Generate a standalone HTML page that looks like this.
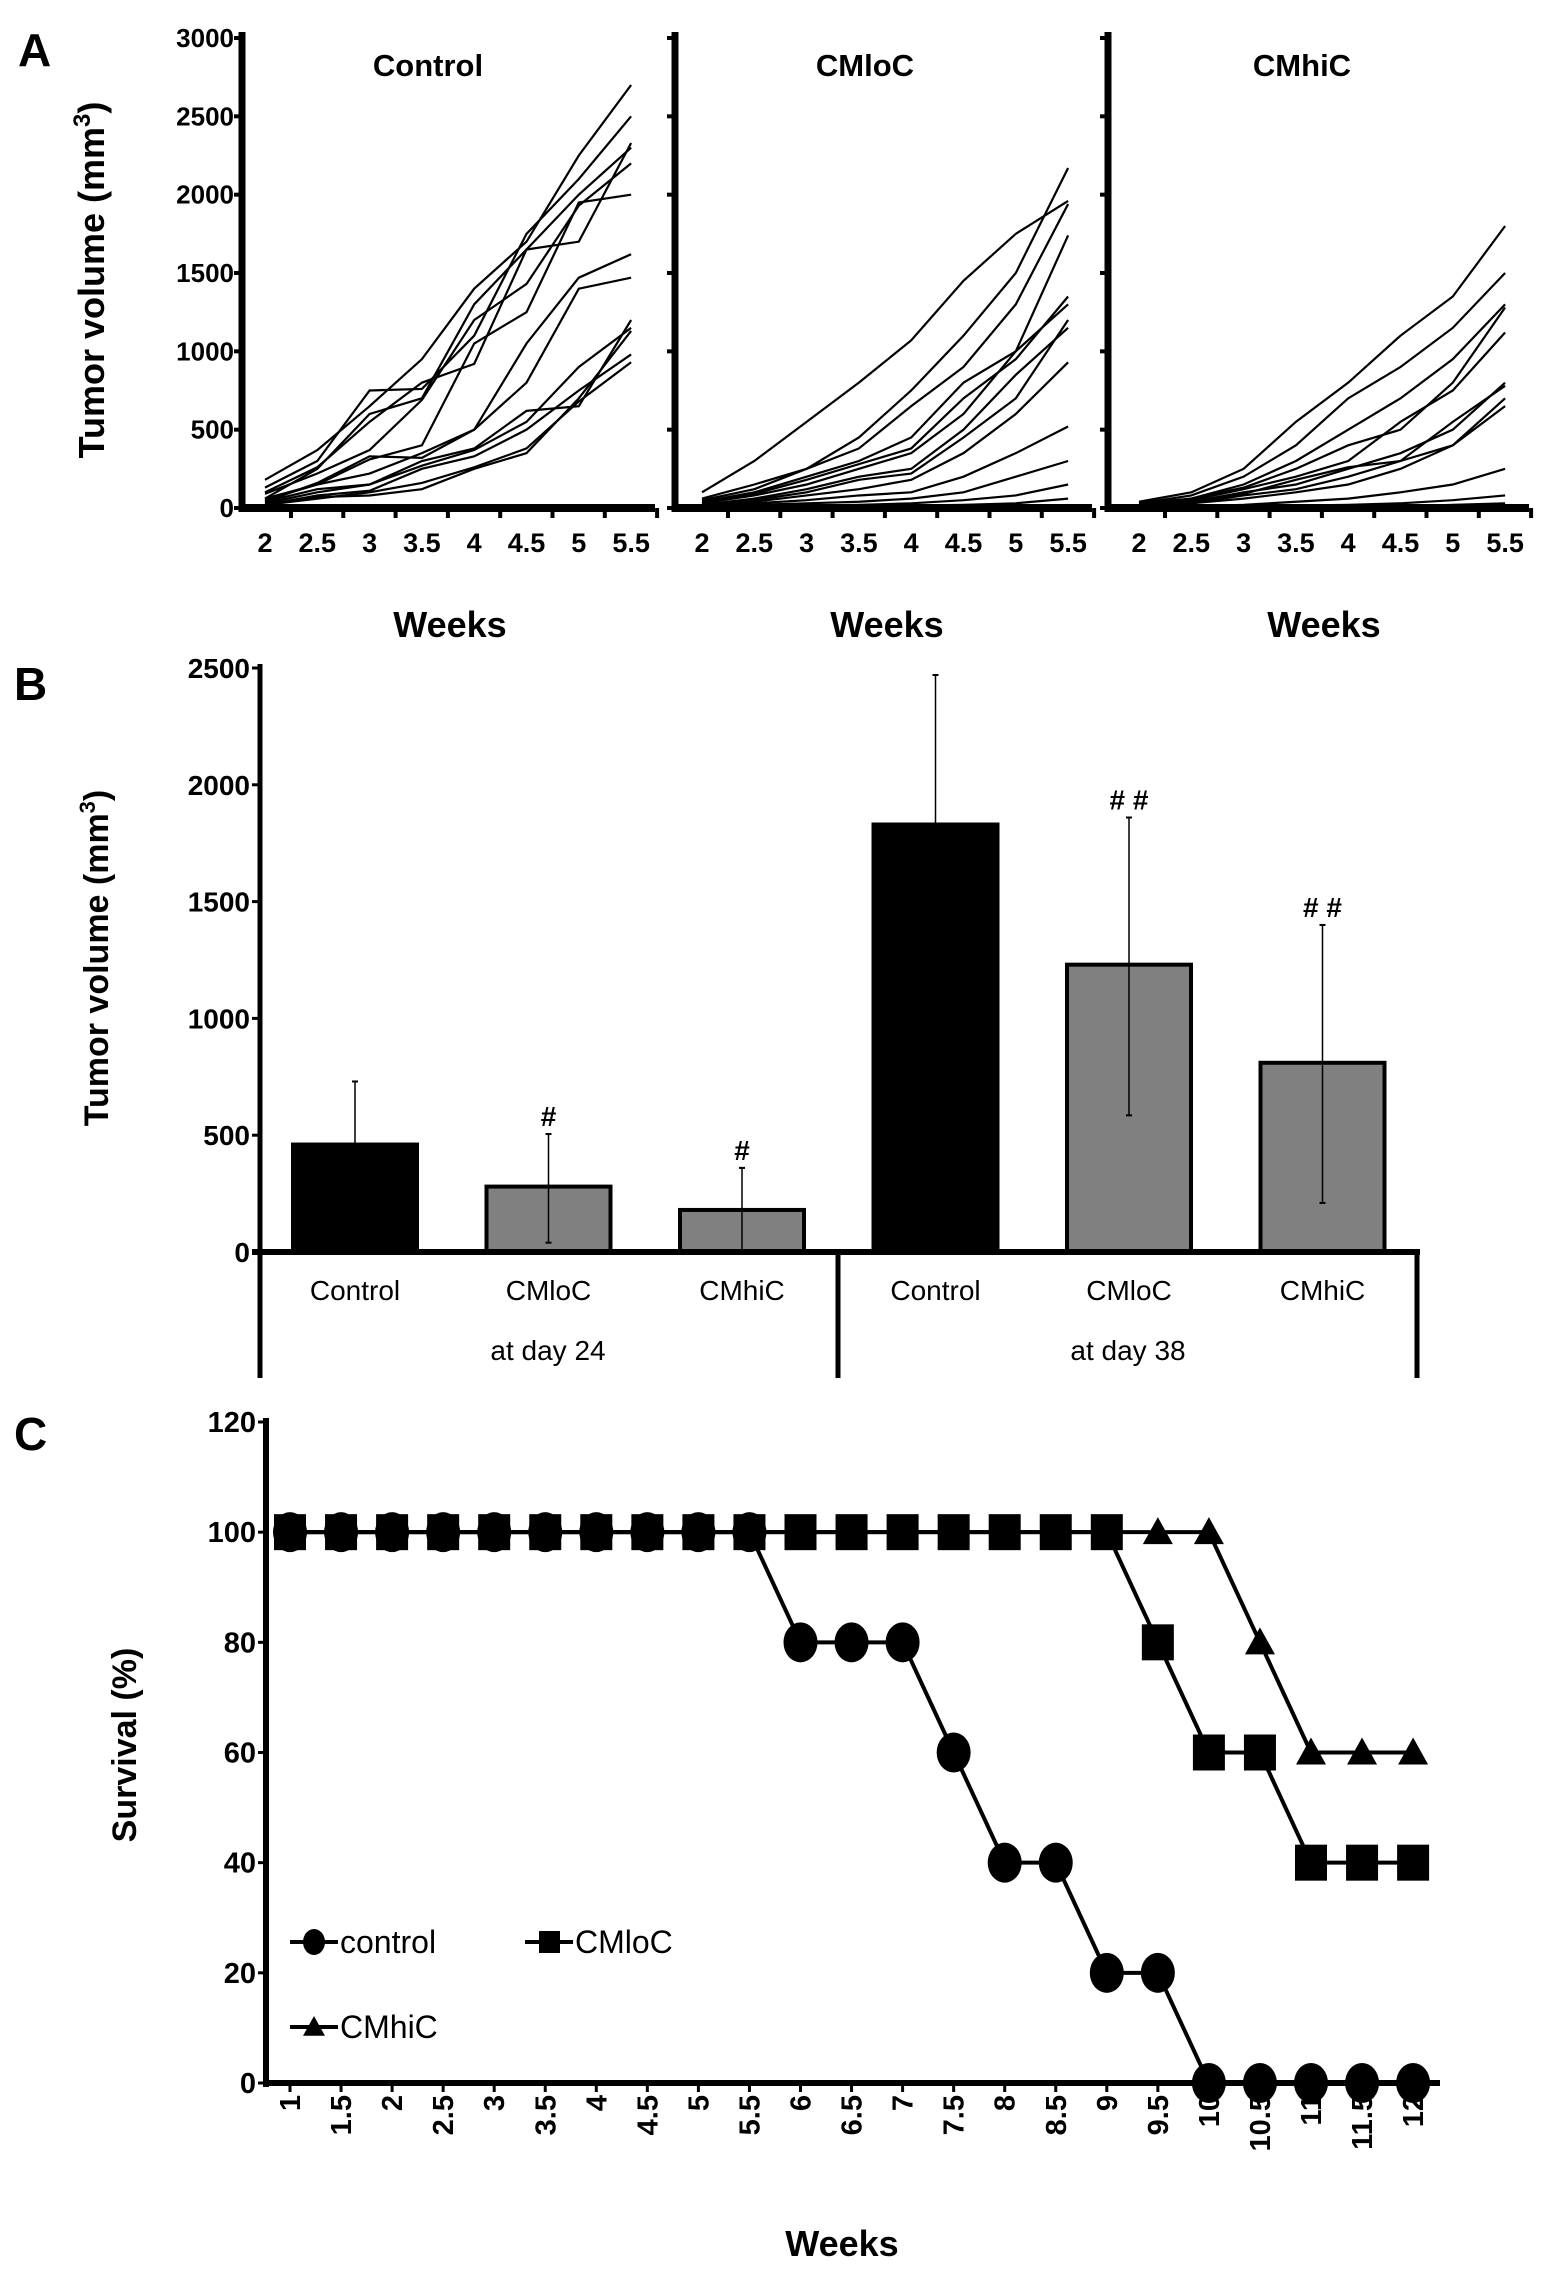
<!DOCTYPE html>
<html><head><meta charset="utf-8"><style>
html,body{margin:0;padding:0;background:#fff;}
svg{display:block;font-family:"Liberation Sans",Arial,sans-serif;}
</style></head><body>
<svg id="fig" width="1559" height="2270" viewBox="0 0 1559 2270" xmlns="http://www.w3.org/2000/svg">
<text x="18" y="66" font-size="46" font-weight="bold">A</text>
<text x="14" y="700" font-size="46" font-weight="bold">B</text>
<text x="14" y="1450" font-size="46" font-weight="bold">C</text>
<g id="gA"></g>
<g id="gB"></g>
<g id="gC"></g>
</svg>
<script>
// ---------- Panel A data ----------
const aWeeks = [2,2.5,3,3.5,4,4.5,5,5.5];
const aYTicks = [0,500,1000,1500,2000,2500,3000];
const aTitles = ["Control","CMloC","CMhiC"];
const aControl = [
[180,370,650,950,1400,1700,2250,2700],
[130,300,750,760,1100,1750,2100,2500],
[100,260,550,800,920,1650,1700,2330],
[60,250,600,700,1300,1650,2000,2300],
[90,220,370,690,1200,1430,1930,2200],
[50,150,310,400,1050,1250,1950,2000],
[40,160,330,320,500,1050,1470,1620],
[60,150,220,350,500,800,1400,1470],
[40,120,150,300,380,620,650,1200],
[30,100,150,270,370,550,900,1150],
[20,80,110,250,330,500,750,980],
[20,60,100,160,260,380,680,930],
[20,70,80,120,250,350,700,1130]];
const aCMloC = [
[100,300,550,800,1070,1450,1750,1960],
[60,150,250,450,750,1100,1500,2170],
[50,120,250,380,650,900,1300,1940],
[40,100,200,300,450,800,1000,1740],
[30,90,180,280,380,700,950,1350],
[30,80,150,250,350,600,1000,1300],
[20,60,120,200,250,500,850,1150],
[20,50,100,180,220,450,700,1200],
[10,40,80,120,180,350,600,930],
[10,30,50,80,100,200,350,520],
[10,20,30,40,60,100,200,300],
[5,10,15,20,30,50,80,150],
[5,5,10,10,15,20,30,60]];
const aCMhiC = [
[40,100,250,550,800,1100,1350,1800],
[30,80,200,400,700,900,1150,1500],
[30,60,150,300,500,700,950,1300],
[20,60,130,250,400,500,800,1280],
[20,50,120,200,300,550,750,1120],
[20,40,100,150,250,350,500,800],
[15,40,90,180,260,300,550,780],
[10,30,80,120,200,300,400,700],
[10,30,60,100,150,250,400,650],
[5,10,20,40,60,100,150,250],
[5,5,10,15,20,30,50,80],
[5,5,5,5,10,10,20,30]];
// ---------- Panel B data ----------
const bCats = ["Control","CMloC","CMhiC","Control","CMloC","CMhiC"];
const bGroups = ["at day 24","at day 38"];
const bMeans = [460,280,180,1830,1230,810];
const bErrHi = [730,505,360,2470,1860,1400];
const bErrLo = [460,40,0,1830,585,210];
const bMarks = ["","#","#","","# #","# #"];
const bYTicks = [0,500,1000,1500,2000,2500];
// ---------- Panel C data ----------
const cWeeks = [1,1.5,2,2.5,3,3.5,4,4.5,5,5.5,6,6.5,7,7.5,8,8.5,9,9.5,10,10.5,11,11.5,12];
const cControl = [100,100,100,100,100,100,100,100,100,100,80,80,80,60,40,40,20,20,0,0,0,0,0];
const cCMloC   = [100,100,100,100,100,100,100,100,100,100,100,100,100,100,100,100,100,80,60,60,40,40,40];
const cCMhiC   = [100,100,100,100,100,100,100,100,100,100,100,100,100,100,100,100,100,100,100,80,60,60,60];
const cYTicks = [0,20,40,60,80,100,120];

const NS="http://www.w3.org/2000/svg";
function mk(p,tag,at,txt){const e=document.createElementNS(NS,tag);for(const k in at)e.setAttribute(k,at[k]);if(txt!==undefined)e.textContent=txt;p.appendChild(e);return e;}

// ---------- Panel A ----------
const gA=document.getElementById('gA');
const aSeries=[aControl,aCMloC,aCMhiC];
const aY0=508,aY1=38;
const ay=v=>aY0-(v/3000)*(aY0-aY1);
for(let p=0;p<3;p++){
  const axX=242+p*433, off=p*437;
  const ax=w=>265+off+(w-2)/0.5*52.3;
  const yl=mk(gA,'line',{x1:axX,y1:aY1-6,x2:axX,y2:aY0+4,stroke:'#000','stroke-width':7});
  
  
  const xl=mk(gA,'line',{x1:axX-3,y1:aY0,x2:655+p*437,y2:aY0,stroke:'#000','stroke-width':8});
  
  
  aYTicks.forEach(t=>{
    mk(gA,'line',{x1:axX-8,y1:ay(t),x2:axX,y2:ay(t),stroke:'#000','stroke-width':4});
    if(p===0){const tl=mk(gA,'text',{x:axX-8,y:ay(t)+9,'font-size':26,'font-weight':'bold','text-anchor':'end'},String(t));
      
      }
  });
  aWeeks.forEach(w=>{
    mk(gA,'line',{x1:ax(w)+26,y1:aY0,x2:ax(w)+26,y2:aY0+10,stroke:'#000','stroke-width':4});
    const tl=mk(gA,'text',{x:ax(w),y:aY0+44,'font-size':27,'font-weight':'bold','text-anchor':'middle'},String(w));
    
    
  });
  const tt=mk(gA,'text',{x:428+p*437,y:76,'font-size':31,'font-weight':'bold','text-anchor':'middle'},aTitles[p]);
  
  
  const wk=mk(gA,'text',{x:450+p*437,y:637,'font-size':36,'font-weight':'bold','text-anchor':'middle'},'Weeks');
  
  
  aSeries[p].forEach(s=>{
    const pl=mk(gA,'polyline',{points:s.map((v,i)=>ax(aWeeks[i])+','+ay(v)).join(' '),fill:'none',stroke:'#000','stroke-width':2.2});
    
    
  });
}
{const t=mk(gA,'text',{transform:'translate(104,280) rotate(-90)','font-size':36,'font-weight':'bold','text-anchor':'middle'});
t.innerHTML='Tumor volume (mm<tspan dy="-14" font-size="24">3</tspan><tspan dy="14">)</tspan>';

}

// ---------- Panel B ----------
const gB=document.getElementById('gB');
const bY0=1252,bY1=668;
const by=v=>bY0-(v/2500)*(bY0-bY1);
const bx=i=>355+i*193.5;
const bw=124;
bMeans.forEach((m,i)=>{
  const r=mk(gB,'rect',{x:bx(i)-bw/2,y:by(m),width:bw,height:bY0-by(m),fill:(i%3===0)?'#000':'#808080',stroke:'#000','stroke-width':4});
  
  
  const e=mk(gB,'line',{x1:bx(i),y1:by(bErrHi[i]),x2:bx(i),y2:by(bErrLo[i]),stroke:'#000','stroke-width':1.5});
  
  
  mk(gB,'line',{x1:bx(i)-3,y1:by(bErrHi[i]),x2:bx(i)+3,y2:by(bErrHi[i]),stroke:'#000','stroke-width':2});
  mk(gB,'line',{x1:bx(i)-3,y1:by(bErrLo[i]),x2:bx(i)+3,y2:by(bErrLo[i]),stroke:'#000','stroke-width':2});
  if(bMarks[i]){const h=mk(gB,'text',{x:bx(i),y:by(bErrHi[i])-8,'font-size':28,'font-weight':'bold','text-anchor':'middle'},bMarks[i]);
    
    }
  const cl=mk(gB,'text',{x:bx(i),y:1300,'font-size':28,'text-anchor':'middle'},bCats[i]);
  
  
});
bGroups.forEach((g,k)=>{
  const t=mk(gB,'text',{x:548+k*580,y:1360,'font-size':28,'text-anchor':'middle'},g);
  
  
});
{const l=mk(gB,'line',{x1:260,y1:bY1-4,x2:260,y2:1378,stroke:'#000','stroke-width':5});

const x=mk(gB,'line',{x1:252,y1:bY0,x2:1420,y2:bY0,stroke:'#000','stroke-width':6});

mk(gB,'line',{x1:838,y1:bY0,x2:838,y2:1378,stroke:'#000','stroke-width':5});
mk(gB,'line',{x1:1417,y1:bY0,x2:1417,y2:1378,stroke:'#000','stroke-width':5});}
bYTicks.forEach(t=>{
  mk(gB,'line',{x1:252,y1:by(t),x2:260,y2:by(t),stroke:'#000','stroke-width':3});
  const tl=mk(gB,'text',{x:250,y:by(t)+10,'font-size':28,'font-weight':'bold','text-anchor':'end'},String(t));
  
  
});
{const t=mk(gB,'text',{transform:'translate(108,958) rotate(-90)','font-size':34,'font-weight':'bold','text-anchor':'middle'});
t.innerHTML='Tumor volume (mm<tspan dy="-13" font-size="22">3</tspan><tspan dy="13">)</tspan>';
}

// ---------- Panel C ----------
const gC=document.getElementById('gC');
const cY0=2083,cY1=1422;
const cy=v=>cY0-(v/120)*(cY0-cY1);
const cx=w=>290+(w-1)/0.5*51.05;
{const l=mk(gC,'line',{x1:266,y1:cY1-4,x2:266,y2:cY0+4,stroke:'#000','stroke-width':6});

const x=mk(gC,'line',{x1:263,y1:cY0,x2:1440,y2:cY0,stroke:'#000','stroke-width':6});
}
cYTicks.forEach(t=>{
  mk(gC,'line',{x1:258,y1:cy(t),x2:266,y2:cy(t),stroke:'#000','stroke-width':3});
  const tl=mk(gC,'text',{x:256,y:cy(t)+10,'font-size':29,'font-weight':'bold','text-anchor':'end'},String(t));
  
  
});
cWeeks.forEach(w=>{
  mk(gC,'line',{x1:cx(w),y1:cY0,x2:cx(w),y2:cY0+9,stroke:'#000','stroke-width':3});
  const tl=mk(gC,'text',{transform:`translate(${cx(w)+10},${cY0+12}) rotate(-90)`,'font-size':29,'font-weight':'bold','text-anchor':'end'},String(w));
  
  
});
function tri(x,y,s){return `${x},${y-s} ${x-s},${y+s*0.8} ${x+s},${y+s*0.8}`;}
function marker(g,shape,x,y){
  if(shape==='circle')return mk(g,'ellipse',{cx:x,cy:y,rx:17,ry:20,fill:'#000'});
  if(shape==='square')return mk(g,'rect',{x:x-16,y:y-18,width:32,height:36,fill:'#000'});
  return mk(g,'polygon',{points:tri(x,y,15),fill:'#000'});
}
[[cCMhiC,'triangle','cmhic'],[cCMloC,'square','cmloc'],[cControl,'circle','control']].forEach(([s,shape,nm])=>{
  const pl=mk(gC,'polyline',{points:s.map((v,i)=>cx(cWeeks[i])+','+cy(v)).join(' '),fill:'none',stroke:'#000','stroke-width':4});
  
  
  s.forEach((v,i)=>{const m=marker(gC,shape,cx(cWeeks[i]),cy(v));
    
    });
});
[['circle','control',290,1942],['square','CMloC',525,1942],['triangle','CMhiC',290,2027]].forEach(([shape,lab,x,y])=>{
  const g=mk(gC,'g',{});
  
  
  mk(g,'line',{x1:x,y1:y,x2:x+48,y2:y,stroke:'#000','stroke-width':4});
  if(shape==='circle')mk(g,'ellipse',{cx:x+24,cy:y,rx:11,ry:13,fill:'#000'});
  else if(shape==='square')mk(g,'rect',{x:x+14,y:y-11,width:21,height:22,fill:'#000'});
  else mk(g,'polygon',{points:tri(x+24,y,11),fill:'#000'});
  mk(g,'text',{x:x+50,y:y+11,'font-size':32},lab);
});
{const t=mk(gC,'text',{transform:'translate(136,1745) rotate(-90)','font-size':34,'font-weight':'bold','text-anchor':'middle'},'Survival (%)');

const w=mk(gC,'text',{x:842,y:2256,'font-size':36,'font-weight':'bold','text-anchor':'middle'},'Weeks');
}
</script>
</body></html>
